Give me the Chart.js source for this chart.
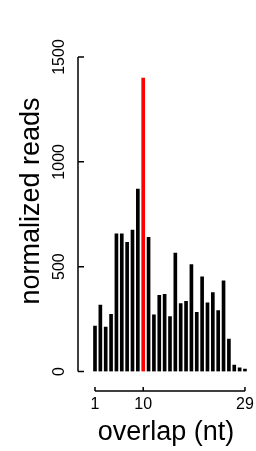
<!DOCTYPE html>
<html>
<head>
<meta charset="utf-8">
<script src="https://cdn.jsdelivr.net/npm/chart.js@4"></script>
<style>
  html, body { margin: 0; padding: 0; background: #fff; }
  #chart { display: block; }
</style>
</head>
<body>
<canvas id="chart" width="256" height="451"></canvas>
<script>
// overlap length (nt) and normalized reads per overlap
const overlaps = [1, 2, 3, 4, 5, 6, 7, 8, 9, 10, 11, 12, 13, 14, 15, 16, 17, 18, 19, 20, 21, 22, 23, 24, 25, 26, 27, 28, 29];
const reads = [217, 317, 212, 273, 657, 657, 616, 675, 870, 1400, 640, 270, 363, 368, 262, 565, 324, 335, 510, 282, 451, 327, 376, 290, 433, 155, 31, 18, 12];
const highlightOverlap = 10;
const yTicks = [0, 500, 1000, 1500];
const xTicks = [1, 10, 29];

const font = '"Liberation Sans", Arial, sans-serif';

const axesPlugin = {
    id: 'rAxes',
    afterDraw(chart) {
        const ctx = chart.ctx;
        const xs = chart.scales.x;
        const ys = chart.scales.y;
        const left = chart.chartArea.left;
        ctx.save();
        ctx.strokeStyle = '#000';
        ctx.fillStyle = '#000';
        ctx.lineWidth = 1.5;

        // y axis
        const yTop = ys.getPixelForValue(yTicks[yTicks.length - 1]);
        const yBot = ys.getPixelForValue(yTicks[0]);
        ctx.beginPath();
        ctx.moveTo(left, yTop);
        ctx.lineTo(left, yBot);
        yTicks.forEach(v => {
            const y = ys.getPixelForValue(v);
            ctx.moveTo(left, y);
            ctx.lineTo(left + 6, y);
        });
        ctx.stroke();

        ctx.font = '16px ' + font;
        ctx.textAlign = 'center';
        ctx.textBaseline = 'middle';
        yTicks.forEach(v => {
            const y = ys.getPixelForValue(v);
            ctx.save();
            ctx.translate(60, y);
            ctx.rotate(-Math.PI / 2);
            ctx.fillText(String(v), 0, 0);
            ctx.restore();
        });

        // x axis
        const axisY = 391;
        const x0 = xs.getPixelForValue(xTicks[0]);
        const x1 = xs.getPixelForValue(xTicks[xTicks.length - 1]);
        ctx.beginPath();
        ctx.moveTo(x0, axisY);
        ctx.lineTo(x1, axisY);
        xTicks.forEach(v => {
            const x = xs.getPixelForValue(v);
            ctx.moveTo(x, axisY);
            ctx.lineTo(x, axisY - 4);
        });
        ctx.stroke();

        xTicks.forEach(v => {
            ctx.fillText(String(v), xs.getPixelForValue(v), 405);
        });

        // titles
        ctx.font = '27px ' + font;
        ctx.textBaseline = 'alphabetic';
        ctx.fillText('overlap (nt)', 166, 440);
        ctx.save();
        ctx.translate(39, 201);
        ctx.rotate(-Math.PI / 2);
        ctx.fillText('normalized reads', 0, 0);
        ctx.restore();
        ctx.restore();
    }
};

new Chart(document.getElementById('chart'), {
    type: 'bar',
    data: {
        datasets: [{
            data: overlaps.map((o, i) => ({x: o, y: reads[i]})),
            backgroundColor: overlaps.map(o => o === highlightOverlap ? '#ff0000' : '#000000'),
            barThickness: 3,
            borderWidth: 0
        }]
    },
    options: {
        responsive: false,
        animation: false,
        layout: { padding: { left: 78, right: 4.6, top: 57, bottom: 79.5 } },
        plugins: { legend: { display: false }, tooltip: { enabled: false } },
        scales: {
            x: { type: 'linear', offset: false, min: -2.173, max: 30.2, display: false },
            y: { min: 0, max: 1500, display: false }
        }
    },
    plugins: [axesPlugin]
});
</script>
</body>
</html>
